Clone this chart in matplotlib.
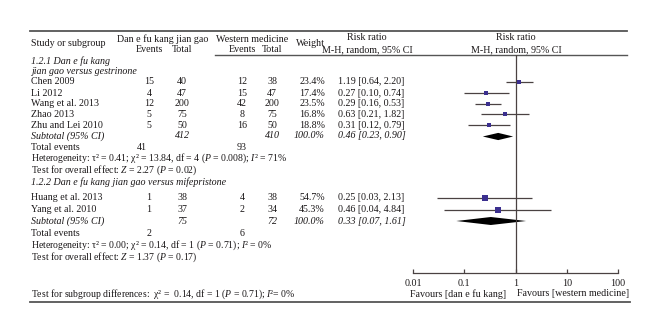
import matplotlib
matplotlib.use("Agg")
import matplotlib.pyplot as plt
import numpy as np

# serif fonts, close to the Minion look of the original
plt.rcParams['font.family'] = ['Liberation Serif', 'DejaVu Serif']
plt.rcParams['mathtext.fontset'] = 'custom'
plt.rcParams['mathtext.rm'] = 'Liberation Serif'
plt.rcParams['mathtext.it'] = 'Liberation Serif:italic'
plt.rcParams['mathtext.bf'] = 'Liberation Serif:bold'

# ---- data ----
# 1.2.1 versus gestrinone
studies1 = ["Chen 2009", "Li 2012", "Wang et al. 2013", "Zhao 2013", "Zhu and Lei 2010"]
ev_dan1 = [15, 4, 12, 5, 5]
tot_dan1 = [40, 47, 200, 75, 50]
ev_wm1 = [12, 15, 42, 8, 16]
tot_wm1 = [38, 47, 200, 75, 50]
weight1 = [23.4, 17.4, 23.5, 16.8, 18.8]
rr1 = [1.19, 0.27, 0.29, 0.63, 0.31]
lo1 = [0.64, 0.10, 0.16, 0.21, 0.12]
hi1 = [2.20, 0.74, 0.53, 1.82, 0.79]
sub1 = [0.46, 0.23, 0.90]
subtot1 = [412, 410]
totev1 = [41, 93]

# 1.2.2 versus mifepristone
studies2 = ["Huang et al. 2013", "Yang et al. 2010"]
ev_dan2 = [1, 1]
tot_dan2 = [38, 37]
ev_wm2 = [4, 2]
tot_wm2 = [38, 34]
weight2 = [54.7, 45.3]
rr2 = [0.25, 0.46]
lo2 = [0.03, 0.04]
hi2 = [2.13, 4.84]
sub2 = [0.33, 0.07, 1.61]
subtot2 = [75, 72]
totev2 = [2, 6]

tick_vals = [0.01, 0.1, 1, 10, 100]
tick_labels = ["0.01", "0.1", "1", "10", "100"]

# ---- layout (pixels, origin top-left) ----
W, H = 660, 334
rows1 = [82, 93, 104, 114.5, 125.3]
rows2 = [198, 209.5]
x_study = 31
x_e1, x_n1, x_e2, x_n2, x_w = 149, 182, 242, 272, 312
x_rr = 338
tc = '#1a1718'
sq_col = '#3b2f8f'
ln_col = '#4a4242'
fs = 7.2
fs_math = 7.0

fig = plt.figure(figsize=(W / 100, H / 100), dpi=100)
ax = fig.add_axes([0, 0, 1, 1])
ax.set_xlim(0, W)
ax.set_ylim(H, 0)
ax.axis('off')


def txt(x, y, s, ha='left', style='normal', size=fs):
    ax.text(x, y, s, ha=ha, va='center', fontsize=size, color=tc, style=style)


# rules
ax.plot([30, 627], [30.5, 30.5], color='#555555', lw=1.3)
ax.plot([215, 627], [55, 55], color='#555555', lw=1.0)
ax.plot([30, 630], [302, 302], color='#555555', lw=1.3)

# header
txt(x_study, 44, "Study or subgroup")
txt(163, 39, "Dan e fu kang jian gao", 'center')
txt(x_e1, 50, "Events", 'center')
txt(x_n1, 50, "Total", 'center')
txt(252, 39, "Western medicine", 'center')
txt(x_e2, 50, "Events", 'center')
txt(x_n2, 50, "Total", 'center')
txt(310, 44, "Weight", 'center')
txt(367, 37, "Risk ratio", 'center')
txt(367, 50, "M-H, random, 95% CI", 'center')
txt(516, 37, "Risk ratio", 'center')
txt(516, 50, "M-H, random, 95% CI", 'center')

# group 1 text
txt(x_study, 61, "1.2.1 Dan e fu kang", style='italic')
txt(x_study, 71.5, "jian gao versus gestrinone", style='italic')
for i, y in enumerate(rows1):
    txt(x_study, y, studies1[i])
    txt(x_e1, y, str(ev_dan1[i]), 'center')
    txt(x_n1, y, str(tot_dan1[i]), 'center')
    txt(x_e2, y, str(ev_wm1[i]), 'center')
    txt(x_n2, y, str(tot_wm1[i]), 'center')
    txt(x_w, y, "%.1f%%" % weight1[i], 'center')
    txt(x_rr, y, "%.2f [%.2f, %.2f]" % (rr1[i], lo1[i], hi1[i]))
txt(x_study, 136, "Subtotal (95% CI)", style='italic')
txt(x_n1, 136, str(subtot1[0]), 'center', 'italic')
txt(x_n2, 136, str(subtot1[1]), 'center', 'italic')
txt(x_w - 3, 136, "100.0%", 'center', 'italic')
txt(x_rr, 136, "%.2f [%.2f, %.2f]" % tuple(sub1), style='italic')
txt(x_study, 147, "Total events")
txt(x_e1 - 7, 147, str(totev1[0]), 'center')
txt(x_e2, 147, str(totev1[1]), 'center')
txt(x_study, 158.5, "Heterogeneity: τ² = 0.41; χ² = 13.84, df = 4 ($P$ = 0.008); $I$² = 71%",
    size=fs_math)
txt(x_study, 170.5, "Test for overall effect: $Z$ = 2.27 ($P$ = 0.02)", size=fs_math)

# group 2 text
txt(x_study, 182, "1.2.2 Dan e fu kang jian gao versus mifepristone", style='italic')
for i, y in enumerate(rows2):
    txt(x_study, y, studies2[i])
    txt(x_e1, y, str(ev_dan2[i]), 'center')
    txt(x_n1, y, str(tot_dan2[i]), 'center')
    txt(x_e2, y, str(ev_wm2[i]), 'center')
    txt(x_n2, y, str(tot_wm2[i]), 'center')
    txt(x_w, y, "%.1f%%" % weight2[i], 'center')
    txt(x_rr, y, "%.2f [%.2f, %.2f]" % (rr2[i], lo2[i], hi2[i]))
txt(x_study, 221, "Subtotal (95% CI)", style='italic')
txt(x_n1, 221, str(subtot2[0]), 'center', 'italic')
txt(x_n2, 221, str(subtot2[1]), 'center', 'italic')
txt(x_w - 3, 221, "100.0%", 'center', 'italic')
txt(x_rr, 221, "%.2f [%.2f, %.2f]" % tuple(sub2), style='italic')
txt(x_study, 233.3, "Total events")
txt(x_e1, 233.3, str(totev2[0]), 'center')
txt(x_e2, 233.3, str(totev2[1]), 'center')
txt(x_study, 245.3, "Heterogeneity: τ² = 0.00; χ² = 0.14, df = 1 ($P$ = 0.71); $I$² = 0%",
    size=fs_math)
txt(x_study, 257.3, "Test for overall effect: $Z$ = 1.37 ($P$ = 0.17)", size=fs_math)

txt(x_study, 294, "Test for subgroup differences:  χ² =  0.14, df = 1 ($P$ = 0.71); $I$²= 0%",
    size=fs_math)
txt(506, 294, "Favours [dan e fu kang]", 'right')
txt(517, 294, "Favours [western medicine]")

# ---- forest panel ----
ax_top, ax_bot = 55, 272.5
fp = fig.add_axes([413 / W, (H - ax_bot) / H, 205 / W, (ax_bot - ax_top) / H])
fp.patch.set_alpha(0)
fp.set_xscale('log')
fp.set_xlim(0.01, 100)
fp.set_ylim(ax_bot, ax_top)
for s in ['top', 'left', 'right']:
    fp.spines[s].set_visible(False)
fp.spines['bottom'].set_color(ln_col)
fp.spines['bottom'].set_linewidth(0.9)
fp.set_yticks([])
fp.set_xticks(tick_vals)
fp.set_xticklabels(tick_labels)
fp.xaxis.set_minor_locator(matplotlib.ticker.NullLocator())
fp.tick_params(axis='x', direction='in', length=3, width=0.9, color=ln_col,
               labelsize=fs, labelcolor=tc, pad=4.5)

fp.axvline(1, color=ln_col, lw=0.9)

for rows, rr, lo, hi, wt in [(rows1, rr1, lo1, hi1, weight1),
                             (rows2, rr2, lo2, hi2, weight2)]:
    fp.hlines(rows, lo, hi, color=ln_col, lw=0.9)
    for y, r, w in zip(rows, rr, wt):
        fp.plot(r, y, 's', color=sq_col, ms=0.68 * np.sqrt(w), mew=0)

for (m, l, h), y, hh in [(sub1, 136.5, 3.6), (sub2, 221, 4.0)]:
    fp.fill([l, m, h, m], [y, y - hh, y, y + hh], color='black', lw=0)

fig.savefig("out.png", dpi=100)
